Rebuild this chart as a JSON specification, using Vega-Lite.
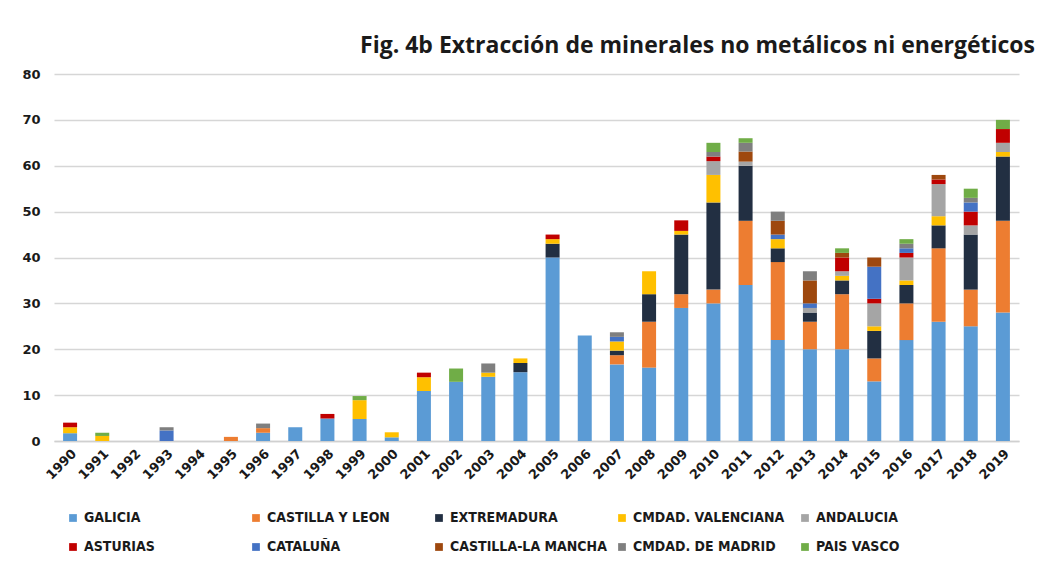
{
  "$schema": "https://vega.github.io/schema/vega-lite/v6.json",
  "width": 965,
  "height": 367,
  "autosize": {"type": "none"},
  "padding": {"left": 54, "top": 74, "right": 23, "bottom": 127},
  "background": "white",
  "title": {
    "text": "Fig. 4b Extracción de minerales no metálicos ni energéticos",
    "anchor": "end",
    "dx": 16,
    "offset": 10,
    "font": "Open Sans",
    "fontSize": 23,
    "fontWeight": "bold",
    "color": "#1a1a1a"
  },
  "data": {
    "values": [
      {"y": "1990", "r": "GALICIA", "v": 1.7},
      {"y": "1990", "r": "CMDAD. VALENCIANA", "v": 1.3},
      {"y": "1990", "r": "ASTURIAS", "v": 1.0},
      {"y": "1991", "r": "CMDAD. VALENCIANA", "v": 1.1},
      {"y": "1991", "r": "PAIS VASCO", "v": 0.7},
      {"y": "1993", "r": "CATALUÑA", "v": 2.3},
      {"y": "1993", "r": "CMDAD. DE MADRID", "v": 0.7},
      {"y": "1995", "r": "CASTILLA Y LEON", "v": 0.9},
      {"y": "1996", "r": "GALICIA", "v": 1.8},
      {"y": "1996", "r": "CASTILLA Y LEON", "v": 1.0},
      {"y": "1996", "r": "CMDAD. DE MADRID", "v": 1.0},
      {"y": "1997", "r": "GALICIA", "v": 3.0},
      {"y": "1998", "r": "GALICIA", "v": 4.9},
      {"y": "1998", "r": "ASTURIAS", "v": 1.0},
      {"y": "1999", "r": "GALICIA", "v": 4.8},
      {"y": "1999", "r": "CMDAD. VALENCIANA", "v": 4.1},
      {"y": "1999", "r": "PAIS VASCO", "v": 0.9},
      {"y": "2000", "r": "GALICIA", "v": 0.8},
      {"y": "2000", "r": "CMDAD. VALENCIANA", "v": 1.1},
      {"y": "2001", "r": "GALICIA", "v": 10.9},
      {"y": "2001", "r": "CMDAD. VALENCIANA", "v": 3.0},
      {"y": "2001", "r": "ASTURIAS", "v": 1.0},
      {"y": "2002", "r": "GALICIA", "v": 12.9},
      {"y": "2002", "r": "PAIS VASCO", "v": 2.9},
      {"y": "2003", "r": "GALICIA", "v": 14.0},
      {"y": "2003", "r": "CMDAD. VALENCIANA", "v": 0.9},
      {"y": "2003", "r": "CMDAD. DE MADRID", "v": 2.0},
      {"y": "2004", "r": "GALICIA", "v": 15.0},
      {"y": "2004", "r": "EXTREMADURA", "v": 2.0},
      {"y": "2004", "r": "CMDAD. VALENCIANA", "v": 1.0},
      {"y": "2005", "r": "GALICIA", "v": 40.0},
      {"y": "2005", "r": "EXTREMADURA", "v": 3.0},
      {"y": "2005", "r": "CMDAD. VALENCIANA", "v": 1.0},
      {"y": "2005", "r": "ASTURIAS", "v": 1.0},
      {"y": "2006", "r": "GALICIA", "v": 23.0},
      {"y": "2007", "r": "GALICIA", "v": 16.7},
      {"y": "2007", "r": "CASTILLA Y LEON", "v": 2.0},
      {"y": "2007", "r": "EXTREMADURA", "v": 1.0},
      {"y": "2007", "r": "CMDAD. VALENCIANA", "v": 2.0},
      {"y": "2007", "r": "CATALUÑA", "v": 1.0},
      {"y": "2007", "r": "CMDAD. DE MADRID", "v": 1.0},
      {"y": "2008", "r": "GALICIA", "v": 16.0},
      {"y": "2008", "r": "CASTILLA Y LEON", "v": 10.0},
      {"y": "2008", "r": "EXTREMADURA", "v": 6.0},
      {"y": "2008", "r": "CMDAD. VALENCIANA", "v": 5.0},
      {"y": "2009", "r": "GALICIA", "v": 29.0},
      {"y": "2009", "r": "CASTILLA Y LEON", "v": 3.0},
      {"y": "2009", "r": "EXTREMADURA", "v": 13.0},
      {"y": "2009", "r": "CMDAD. VALENCIANA", "v": 0.8},
      {"y": "2009", "r": "ASTURIAS", "v": 2.3},
      {"y": "2010", "r": "GALICIA", "v": 30.0},
      {"y": "2010", "r": "CASTILLA Y LEON", "v": 3.0},
      {"y": "2010", "r": "EXTREMADURA", "v": 19.0},
      {"y": "2010", "r": "CMDAD. VALENCIANA", "v": 6.0},
      {"y": "2010", "r": "ANDALUCIA", "v": 3.0},
      {"y": "2010", "r": "ASTURIAS", "v": 1.0},
      {"y": "2010", "r": "CMDAD. DE MADRID", "v": 1.0},
      {"y": "2010", "r": "PAIS VASCO", "v": 2.0},
      {"y": "2011", "r": "GALICIA", "v": 34.0},
      {"y": "2011", "r": "CASTILLA Y LEON", "v": 14.0},
      {"y": "2011", "r": "EXTREMADURA", "v": 12.0},
      {"y": "2011", "r": "ANDALUCIA", "v": 0.9},
      {"y": "2011", "r": "CASTILLA-LA MANCHA", "v": 2.2},
      {"y": "2011", "r": "CMDAD. DE MADRID", "v": 1.9},
      {"y": "2011", "r": "PAIS VASCO", "v": 1.0},
      {"y": "2012", "r": "GALICIA", "v": 22.0},
      {"y": "2012", "r": "CASTILLA Y LEON", "v": 17.0},
      {"y": "2012", "r": "EXTREMADURA", "v": 3.0},
      {"y": "2012", "r": "CMDAD. VALENCIANA", "v": 2.0},
      {"y": "2012", "r": "CATALUÑA", "v": 1.0},
      {"y": "2012", "r": "CASTILLA-LA MANCHA", "v": 3.0},
      {"y": "2012", "r": "CMDAD. DE MADRID", "v": 2.0},
      {"y": "2013", "r": "GALICIA", "v": 20.0},
      {"y": "2013", "r": "CASTILLA Y LEON", "v": 6.0},
      {"y": "2013", "r": "EXTREMADURA", "v": 2.0},
      {"y": "2013", "r": "ANDALUCIA", "v": 1.0},
      {"y": "2013", "r": "CATALUÑA", "v": 1.0},
      {"y": "2013", "r": "CASTILLA-LA MANCHA", "v": 5.0},
      {"y": "2013", "r": "CMDAD. DE MADRID", "v": 2.0},
      {"y": "2014", "r": "GALICIA", "v": 20.0},
      {"y": "2014", "r": "CASTILLA Y LEON", "v": 12.0},
      {"y": "2014", "r": "EXTREMADURA", "v": 3.0},
      {"y": "2014", "r": "CMDAD. VALENCIANA", "v": 1.0},
      {"y": "2014", "r": "ANDALUCIA", "v": 1.0},
      {"y": "2014", "r": "ASTURIAS", "v": 3.0},
      {"y": "2014", "r": "CASTILLA-LA MANCHA", "v": 1.0},
      {"y": "2014", "r": "PAIS VASCO", "v": 1.0},
      {"y": "2015", "r": "GALICIA", "v": 13.0},
      {"y": "2015", "r": "CASTILLA Y LEON", "v": 5.0},
      {"y": "2015", "r": "EXTREMADURA", "v": 6.0},
      {"y": "2015", "r": "CMDAD. VALENCIANA", "v": 1.0},
      {"y": "2015", "r": "ANDALUCIA", "v": 5.0},
      {"y": "2015", "r": "ASTURIAS", "v": 1.0},
      {"y": "2015", "r": "CATALUÑA", "v": 7.0},
      {"y": "2015", "r": "CASTILLA-LA MANCHA", "v": 2.0},
      {"y": "2016", "r": "GALICIA", "v": 22.0},
      {"y": "2016", "r": "CASTILLA Y LEON", "v": 8.0},
      {"y": "2016", "r": "EXTREMADURA", "v": 4.0},
      {"y": "2016", "r": "CMDAD. VALENCIANA", "v": 1.0},
      {"y": "2016", "r": "ANDALUCIA", "v": 5.0},
      {"y": "2016", "r": "ASTURIAS", "v": 1.0},
      {"y": "2016", "r": "CATALUÑA", "v": 1.0},
      {"y": "2016", "r": "CMDAD. DE MADRID", "v": 1.0},
      {"y": "2016", "r": "PAIS VASCO", "v": 1.0},
      {"y": "2017", "r": "GALICIA", "v": 26.0},
      {"y": "2017", "r": "CASTILLA Y LEON", "v": 16.0},
      {"y": "2017", "r": "EXTREMADURA", "v": 5.0},
      {"y": "2017", "r": "CMDAD. VALENCIANA", "v": 2.0},
      {"y": "2017", "r": "ANDALUCIA", "v": 7.0},
      {"y": "2017", "r": "ASTURIAS", "v": 1.0},
      {"y": "2017", "r": "CASTILLA-LA MANCHA", "v": 1.0},
      {"y": "2018", "r": "GALICIA", "v": 25.0},
      {"y": "2018", "r": "CASTILLA Y LEON", "v": 8.0},
      {"y": "2018", "r": "EXTREMADURA", "v": 12.0},
      {"y": "2018", "r": "ANDALUCIA", "v": 2.0},
      {"y": "2018", "r": "ASTURIAS", "v": 3.0},
      {"y": "2018", "r": "CATALUÑA", "v": 2.0},
      {"y": "2018", "r": "CMDAD. DE MADRID", "v": 1.0},
      {"y": "2018", "r": "PAIS VASCO", "v": 2.0},
      {"y": "2019", "r": "GALICIA", "v": 28.0},
      {"y": "2019", "r": "CASTILLA Y LEON", "v": 20.0},
      {"y": "2019", "r": "EXTREMADURA", "v": 14.0},
      {"y": "2019", "r": "CMDAD. VALENCIANA", "v": 1.0},
      {"y": "2019", "r": "ANDALUCIA", "v": 2.0},
      {"y": "2019", "r": "ASTURIAS", "v": 3.0},
      {"y": "2019", "r": "PAIS VASCO", "v": 2.0}
    ]
  },
  "transform": [
    {"calculate": "indexof(['GALICIA','CASTILLA Y LEON','EXTREMADURA','CMDAD. VALENCIANA','ANDALUCIA','ASTURIAS','CATALUÑA','CASTILLA-LA MANCHA','CMDAD. DE MADRID','PAIS VASCO'], datum.r)", "as": "o"}
  ],
  "mark": {"type": "bar", "size": 14},
  "encoding": {
    "x": {
      "field": "y",
      "type": "ordinal",
      "title": null,
      "scale": {
        "domain": ["1990","1991","1992","1993","1994","1995","1996","1997","1998","1999","2000","2001","2002","2003","2004","2005","2006","2007","2008","2009","2010","2011","2012","2013","2014","2015","2016","2017","2018","2019"],
        "paddingInner": 0,
        "paddingOuter": 0
      },
      "axis": {
        "labelAngle": -45,
        "labelFont": "DejaVu Sans",
        "labelFontWeight": "bold",
        "labelFontSize": 13,
        "labelColor": "#1a1a1a",
        "ticks": false,
        "labelPadding": 6,
        "domainColor": "#d0d0d0",
        "domainWidth": 1.5
      }
    },
    "y": {
      "field": "v",
      "type": "quantitative",
      "stack": "zero",
      "title": null,
      "scale": {"domain": [0, 80], "nice": false},
      "axis": {
        "values": [0, 10, 20, 30, 40, 50, 60, 70, 80],
        "labelFont": "DejaVu Sans",
        "labelFontWeight": "bold",
        "labelFontSize": 13,
        "labelColor": "#1a1a1a",
        "labelPadding": 14,
        "ticks": false,
        "domain": false,
        "gridColor": "#d6d6d6",
        "gridWidth": 1.5
      }
    },
    "order": {"field": "o", "type": "quantitative", "sort": "ascending"},
    "color": {
      "field": "r",
      "type": "nominal",
      "scale": {
        "domain": ["GALICIA","CASTILLA Y LEON","EXTREMADURA","CMDAD. VALENCIANA","ANDALUCIA","ASTURIAS","CATALUÑA","CASTILLA-LA MANCHA","CMDAD. DE MADRID","PAIS VASCO"],
        "range": ["#5b9bd5","#ed7d31","#222f42","#ffc000","#a5a5a5","#c00000","#4472c4","#9e480e","#7f7f7f","#70ad47"]
      },
      "legend": {
        "title": null,
        "orient": "none",
        "legendX": 12,
        "legendY": 437,
        "direction": "horizontal",
        "columns": 5,
        "gridAlign": "all",
        "columnPadding": 8,
        "rowPadding": 15,
        "symbolType": "square",
        "symbolSize": 60,
        "symbolStrokeWidth": 0,
        "labelFont": "DejaVu Sans Condensed",
        "labelFontWeight": "bold",
        "labelFontSize": 14,
        "labelColor": "#1a1a1a",
        "labelOffset": 4,
        "labelLimit": 250
      }
    }
  },
  "config": {
    "view": {"stroke": null}
  }
}
